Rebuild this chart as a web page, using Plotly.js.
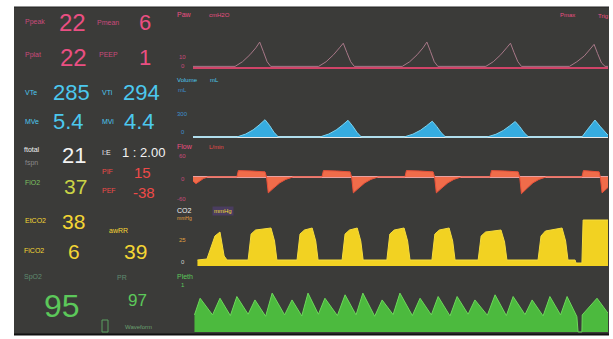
<!DOCTYPE html>
<html><head><meta charset="utf-8">
<script src="https://cdn.plot.ly/plotly-3.0.1.min.js"></script>
<style>html,body{margin:0;padding:0;background:#fff;}#chart{width:613px;height:339px;}</style>
</head><body><div id="chart"></div>
<script>
// ---------- DATA ----------
// Airway pressure, cmH2O vs time (s)
const pawT = [0, 1.42, 1.67, 1.92, 2.12, 2.25, 2.37, 2.50, 2.62, 4.24, 4.49, 4.74, 4.94, 5.07, 5.19, 5.32, 5.44, 7.06, 7.31, 7.56, 7.76, 7.89, 8.01, 8.14, 8.26, 9.88, 10.13, 10.38, 10.58, 10.71, 10.83, 10.96, 11.08, 12.70, 12.95, 13.20, 13.40, 13.53, 13.65, 13.78, 13.90, 14];
const pawV = [1, 1, 5, 11, 17, 22, 14, 5, 1, 1, 5, 11, 17, 21, 13, 5, 1, 1, 5, 11, 17, 22, 14, 5, 1, 1, 5, 11, 17, 21, 13, 5, 1, 1, 5, 10, 16, 20, 12, 4, 1, 1];
// Volume, mL
const volT = [0, 1.48, 1.78, 2.03, 2.23, 2.43, 2.58, 2.73, 2.88, 4.28, 4.58, 4.83, 5.03, 5.23, 5.38, 5.53, 5.68, 7.12, 7.42, 7.67, 7.87, 8.07, 8.22, 8.37, 8.52, 9.92, 10.22, 10.47, 10.67, 10.87, 11.02, 11.17, 11.32, 13.12, 13.30, 13.56, 13.75, 13.90, 14.0];
const volV = [0, 0, 50, 120, 200, 290, 195, 80, 0, 0, 50, 118, 195, 280, 188, 78, 0, 0, 48, 112, 185, 265, 178, 74, 0, 0, 46, 110, 182, 260, 175, 72, 0, 0, 120, 285, 170, 80, 30];
// Flow, L/min
const flowT = [0, 0.10, 0.35, 0.50, 1.48, 1.53, 1.98, 2.43, 2.48, 2.54, 2.73, 2.93, 3.13, 3.38, 4.35, 4.40, 4.85, 5.30, 5.35, 5.41, 5.60, 5.80, 6.00, 6.25, 7.15, 7.20, 7.65, 8.10, 8.15, 8.21, 8.40, 8.60, 8.80, 9.05, 10.02, 10.07, 10.52, 10.97, 11.02, 11.08, 11.27, 11.47, 11.67, 11.92, 13.12, 13.17, 13.70, 13.74, 13.80, 14.0];
const flowV = [-10, -16, -4, 0, 0, 15, 14, 12, 0, -38, -26, -14, -6, 0, 0, 15, 14, 12, 0, -38, -26, -14, -6, 0, 0, 15, 14, 12, 0, -38, -26, -14, -6, 0, 0, 15, 14, 12, 0, -40, -27, -14, -6, 0, 0, 15, 12, 0, -38, -25];
// CO2, mmHg
const co2T = [0.15, 0.47, 0.74, 0.91, 1.05, 1.15, 1.86, 1.96, 2.11, 2.63, 2.75, 2.83, 3.51, 3.61, 3.76, 4.02, 4.14, 4.22, 5.03, 5.13, 5.28, 5.54, 5.66, 5.74, 6.54, 6.64, 6.79, 7.12, 7.24, 7.32, 8.06, 8.16, 8.31, 8.64, 8.76, 8.84, 9.62, 9.72, 9.87, 10.39, 10.51, 10.59, 11.64, 11.74, 11.89, 12.45, 12.57, 12.65, 12.89, 12.92, 13.12, 13.16, 14.0];
const co2V = [6, 7, 30, 34, 10, 6, 6, 32, 36, 38, 25, 6, 6, 32, 36, 38, 25, 6, 6, 32, 36, 38, 25, 6, 6, 32, 36, 38, 25, 6, 6, 32, 36, 38, 25, 6, 6, 30, 34, 36, 24, 6, 6, 30, 35, 38, 25, 6, 6, 3, 3, 46, 46];
// Plethysmogram, arbitrary units
const plethT = [0.05, 0.24, 0.66, 0.91, 1.26, 1.48, 1.86, 2.09, 2.45, 2.67, 3.09, 3.34, 3.67, 3.88, 4.23, 4.45, 4.87, 5.13, 5.50, 5.73, 6.13, 6.38, 6.75, 6.98, 7.40, 7.66, 8.04, 8.27, 8.67, 8.91, 9.28, 9.51, 9.93, 10.19, 10.57, 10.80, 11.20, 11.44, 11.81, 12.04, 12.40, 12.62, 12.95, 12.99, 13.12, 13.13, 13.63, 14.0];
const plethV = [50, 99, 50, 99, 48, 104, 52, 94, 46, 114, 50, 94, 47, 114, 52, 99, 48, 109, 50, 114, 46, 94, 51, 114, 48, 99, 50, 104, 47, 104, 52, 94, 49, 109, 48, 104, 51, 94, 47, 104, 50, 104, 45, 0, 0, 50, 99, 55];

// Numeric readouts (left panel)
const readoutNames  = ['Ppeak','Pmean','Pplat','PEEP','VTe','VTi','MVe','MVi','ftotal','I:E','PIF','FiO2','PEF','EtCO2','FiCO2','awRR','SpO2','PR'];
const readoutValues = ['22','6','22','1','285','294','5.4','4.4','21','1 : 2.00','15','37','-38','38','6','39','95','97'];

// ---------- LAYOUT / STYLE ----------
const W = 613, H = 339;
const px = x => x / W, py = y => 1 - y / H;
const dom = (top, bottom) => [py(bottom), py(top)];
const FONT = 'Liberation Sans, Arial, sans-serif';
const C = {pink:'#ea4f82', pinkL:'#c94a7a', cyan:'#4cc8ee', white:'#f2f2f2', red:'#ee4a48', fio2:'#cad446',
           yellow:'#f4d634', green:'#5cc85a', greenL:'#5f8c70', grey:'#8a8a8a', bg:'#3b3b39'};

// label x,y ; value x,y ; value size ; colours
const rStyle = [
  [23,22, 72,22,24, C.pinkL, C.pink],
  [95,22, 145,22,22, C.pinkL, C.pink],
  [23,55, 73,57,24, C.pinkL, C.pink],
  [97,55, 145,57,22, C.pinkL, C.pink],
  [23,92, 71,92,22, C.cyan, C.cyan],
  [100,92, 141,92,22, C.cyan, C.cyan],
  [23,122, 68,122,22, C.cyan, C.cyan],
  [100,122, 139,122,22, C.cyan, C.cyan],
  [22,149, 74,155,22, C.white, C.white],
  [100,152, 143,152,13, C.white, C.white],
  [100,171, 142,172,15, C.red, C.red],
  [23,182, 75,186,21, '#7cc060', C.fio2],
  [100,191, 144,192,15, C.red, C.red],
  [23,220, 73,221,21, C.yellow, C.yellow],
  [22,250, 74,251,21, C.yellow, C.yellow],
  [107,231, 135,251,21, C.yellow, C.yellow],
  [22,277, 62,306,32, C.greenL, C.green],
  [115,277, 137,300,17, C.greenL, C.green]
];

const annotations = [];
function ann(text, x, y, size, color, anchor, extra) {
  annotations.push(Object.assign({text: text, x: px(x), y: py(y), xref:'paper', yref:'paper',
    xanchor: anchor || 'center', yanchor:'middle', showarrow:false,
    font:{family:FONT, size:size, color:color}}, extra || {}));
}
readoutNames.forEach((n, i) => {
  const s = rStyle[i];
  ann(n, s[0], s[1], 7, s[5], 'left');
  ann(readoutValues[i], s[2], s[3], s[4], s[6], 'center');
});
ann('fspn', 23, 163, 7, C.grey, 'left');
ann('Waveform', 123, 327, 6, '#6aa070', 'left');

// waveform channel labels
ann('Paw', 175, 15, 7, C.pink, 'left');
ann('cmH2O', 207, 15, 6, C.pink, 'left');
ann('10', 177, 57, 6, C.pinkL, 'left');
ann('0', 179, 66, 6, C.pinkL, 'left');
ann('Pmax', 558, 15, 6, C.pink, 'left');
ann('Trig', 596, 16, 6, C.pink, 'left');
ann('Volume', 175, 80, 6, C.cyan, 'left');
ann('mL', 208, 80, 6, C.cyan, 'left');
ann('mL', 176, 90, 6, '#3d8fd0', 'left');
ann('300', 175, 114, 6, '#3d8fd0', 'left');
ann('0', 179, 132, 6, '#3d8fd0', 'left');
ann('Flow', 175, 146, 7, C.pink, 'left');
ann('L/min', 207, 147, 6, C.red, 'left');
ann('60', 177, 156, 6, C.pinkL, 'left');
ann('0', 179, 179, 6, C.pinkL, 'left');
ann('-60', 175, 199, 6, C.pinkL, 'left');
ann('CO2', 175, 210, 7, C.white, 'left');
ann('mmHg', 175, 218, 5, '#e0a040', 'left');
ann('25', 177, 240, 6, '#e0a040', 'left');
ann('0', 179, 262, 6, '#d0d0d0', 'left');
ann('mmHg', 212, 211, 6, C.yellow, 'left', {bgcolor:'#4a3d60'});
ann('Pleth', 175, 276, 7, C.green, 'left');
ann('1', 179, 285, 6, C.green, 'left');

const shapes = [
  {type:'rect', xref:'paper', yref:'paper', x0:px(14), x1:px(609), y0:py(334), y1:py(7),
   fillcolor:C.bg, line:{width:0}, layer:'below'},
  {type:'line', xref:'paper', yref:'paper', x0:px(14), x1:px(609), y0:py(334.5), y1:py(334.5),
   line:{color:'#111', width:2}},
  {type:'line', xref:'paper', yref:'paper', x0:px(14), x1:px(609), y0:py(7), y1:py(7),
   line:{color:'#222', width:1}},
  {type:'rect', xref:'paper', yref:'paper', x0:px(102), x1:px(108), y0:py(332), y1:py(320),
   line:{color:'#5aa060', width:1}, fillcolor:'rgba(0,0,0,0)'}
];

const hideY = (d, r, zl, zc, zw) => ({domain:d, range:r, showgrid:false, showticklabels:false,
  showline:false, ticks:'', zeroline:zl, zerolinecolor:zc, zerolinewidth:zw, fixedrange:true});

const traces = [
  {x:pawT, y:pawV, xaxis:'x', yaxis:'y', mode:'lines', line:{color:'#a87888', width:1}},
  {x:volT, y:volV, xaxis:'x', yaxis:'y2', mode:'lines', fill:'tozeroy', fillcolor:'#36ace0',
   line:{color:'#7ad4f2', width:1}},
  {x:flowT, y:flowV, xaxis:'x', yaxis:'y3', mode:'lines', fill:'tozeroy', fillcolor:'#f06c4a',
   line:{color:'#e8503a', width:1}},
  {x:co2T, y:co2V, xaxis:'x', yaxis:'y4', mode:'lines', fill:'tozeroy', fillcolor:'#f2d222',
   line:{color:'#f6dc3c', width:1}},
  {x:plethT, y:plethV, xaxis:'x', yaxis:'y5', mode:'lines', fill:'tozeroy', fillcolor:'#4cba3e',
   line:{color:'#6cd85a', width:1}}
].map(t => Object.assign(t, {showlegend:false, hoverinfo:'skip'}));

const layout = {
  width:W, height:H, margin:{l:0, r:0, t:0, b:0},
  paper_bgcolor:'#ffffff', plot_bgcolor:'rgba(0,0,0,0)',
  showlegend:false,
  xaxis:{domain:[px(193), px(608)], range:[0, 14], visible:false, fixedrange:true},
  yaxis:  hideY(dom(27, 71), [-3, 35], true, '#d04468', 2),
  yaxis2: hideY(dom(80, 142), [-84, 956], true, '#e8e8e8', 1.5),
  yaxis3: hideY(dom(145, 200), [-55, 76], true, '#e8a0a0', 1.5),
  yaxis4: hideY(dom(205, 268), [-2, 61], false),
  yaxis5: hideY(dom(288, 334), [-6, 129], false),
  shapes: shapes, annotations: annotations
};
Plotly.newPlot('chart', traces, layout, {staticPlot:true, displayModeBar:false});
</script></body></html>
